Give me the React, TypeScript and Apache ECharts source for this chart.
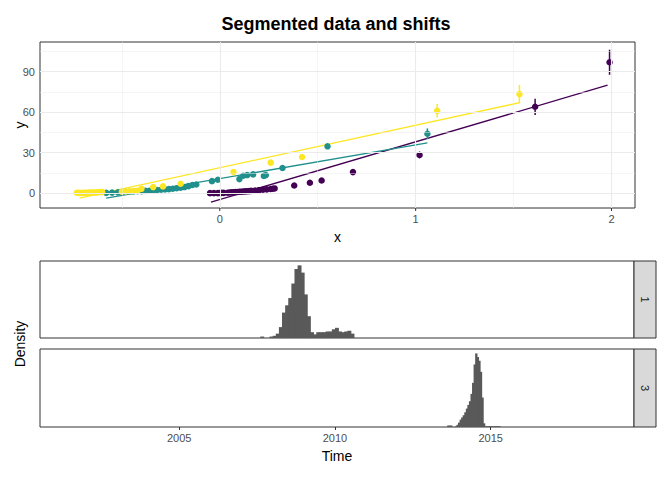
import { useRef, useEffect } from 'react';
import * as echarts from 'echarts';

const PURPLE = '#440154';
const TEAL = '#21908C';
const YELLOW = '#FDE725';

// [x, y, err]
const purplePts = [
  [-0.05, 0, 0], [-0.03, 0, 0], [-0.01, 0, 0], [0.0, 0.1, 0], [0.01, 0.2, 0], [0.02, 0.2, 0],
  [0.04, 0.3, 0], [0.05, 0.5, 0], [0.06, 0.6, 0], [0.07, 0.7, 0], [0.08, 0.8, 0], [0.09, 0.9, 0],
  [0.1, 1.0, 0], [0.11, 1.1, 0], [0.12, 1.2, 0], [0.13, 1.3, 0], [0.14, 1.4, 0], [0.15, 1.5, 0],
  [0.16, 1.7, 0], [0.18, 1.9, 0], [0.2, 2.2, 0], [0.22, 2.5, 0], [0.24, 2.8, 0], [0.26, 3.1, 0],
  [0.27, 3.3, 0], [0.28, 3.5, 0], [0.38, 5.7, 0], [0.46, 7.7, 0], [0.52, 9.4, 0], [0.68, 15.6, 0],
  [1.02, 28.3, 2.5], [1.61, 64, 6], [1.99, 97, 9.3],
];
const tealPts = [
  [-0.58, 0.2, 0], [-0.55, 0.4, 0], [-0.52, 0.6, 0], [-0.5, 0.8, 0], [-0.48, 1.0, 0], [-0.46, 1.0, 0],
  [-0.44, 1.2, 0], [-0.42, 1.4, 0], [-0.4, 1.5, 0], [-0.38, 1.7, 0], [-0.36, 1.8, 0], [-0.34, 2.0, 0],
  [-0.32, 2.3, 0], [-0.3, 2.5, 0], [-0.28, 2.8, 0], [-0.26, 3.0, 0], [-0.24, 3.3, 0], [-0.22, 3.6, 0],
  [-0.2, 4.0, 0], [-0.18, 4.5, 0], [-0.16, 5.2, 0], [-0.14, 6.0, 0], [-0.12, 6.4, 0], [-0.04, 8.9, 0],
  [-0.01, 9.9, 0], [0.1, 10.4, 0], [0.12, 12.9, 0], [0.14, 13.4, 0], [0.17, 13.9, 0], [0.225, 12.8, 0],
  [0.235, 13.4, 0], [0.32, 18.6, 0], [0.55, 34.7, 1.5], [1.06, 44, 4],
];
const yellowPts = [
  [-0.73, 0.3, 0], [-0.72, 0.2, 0], [-0.71, 0.1, 0], [-0.7, 0.2, 0], [-0.69, 0.3, 0], [-0.68, 0.3, 0],
  [-0.67, 0.4, 0], [-0.66, 0.4, 0], [-0.65, 0.5, 0], [-0.64, 0.5, 0], [-0.63, 0.6, 0], [-0.62, 0.7, 0],
  [-0.61, 0.8, 0], [-0.6, 0.8, 0], [-0.5, 1.0, 0], [-0.48, 1.2, 0], [-0.46, 1.4, 0], [-0.44, 1.6, 0],
  [-0.42, 1.8, 0], [-0.4, 3.2, 0], [-0.34, 4.5, 0], [-0.29, 5.0, 0], [-0.2, 7.0, 0], [0.07, 15.6, 0],
  [0.26, 22.6, 0], [0.42, 26.8, 0], [1.11, 61, 5], [1.53, 73.4, 6.8],
];
const purpleLine = [[-0.045, -6.7], [1.98, 80]];
const tealLine = [[-0.58, -3.7], [1.06, 37.2]];
const yellowLine = [[-0.716, -3.7], [1.53, 67]];

const xTicks = [0, 1, 2];
const xMinor = [-0.5, 0.5, 1.5];
const yTicks = [0, 30, 60, 90];
const yMinor = [15, 45, 75, 105];
const timeTicks = [2005, 2010, 2015];

// histogram bins: start, width, density (relative)
const bins1Start = 2007.6;
const bins1Width = 0.1;
const bins1 = [0.02, 0, 0, 0.02, 0.03, 0.06, 0.15, 0.35, 0.45, 0.55, 0.75, 0.95, 1.0, 0.9, 0.6, 0.3,
  0.08, 0.05, 0.08, 0.08, 0.08, 0.09, 0.09, 0.12, 0.14, 0.09, 0.08, 0.09, 0.1, 0.06];
const bins3Start = 2013.6;
const bins3Width = 0.05;
const bins3 = [0.02, 0.02, 0.02, 0, 0, 0.01, 0.03, 0.06, 0.1, 0.13, 0.16, 0.2, 0.25, 0.3, 0.35, 0.45,
  0.6, 0.85, 1.0, 0.95, 0.9, 0.75, 0.4, 0.05, 0.01, 0.01, 0.01, 0.01, 0.01, 0.01, 0.01, 0.01, 0.01, 0.01];

const GRID = '#EBEBEB';
const BORDER = '#333333';
const TXT = '#4D4D4D';
const FONT = 'Liberation Sans, Arial, sans-serif';
const X_MIN = -0.918;
const Y_MIN = -11;

function histData(start: number, w: number, vals: number[]) {
  return vals.map((v, i) => [start + i * w, start + (i + 1) * w, v]);
}

export default function App() {
  const ref = useRef<HTMLDivElement>(null);

  useEffect(() => {
    if (!ref.current) return;
    const chart = echarts.init(ref.current, null, { renderer: 'svg' });

    const scatter = (name: string, color: string, pts: number[][]) => [
      {
        name, type: 'scatter' as const, xAxisIndex: 0, yAxisIndex: 0,
        data: pts.map((p) => [p[0], p[1]]), symbolSize: 6.5,
        itemStyle: { color, opacity: 1 }, z: 3,
      },
      {
        name: name + '-err', type: 'custom' as const, xAxisIndex: 0, yAxisIndex: 0,
        data: pts.filter((p) => p[2] > 0),
        renderItem: (_p: any, api: any) => {
          const a = api.coord([api.value(0), api.value(1) - api.value(2)]);
          const b = api.coord([api.value(0), api.value(1) + api.value(2)]);
          return { type: 'rect', shape: { x: a[0] - 0.75, y: b[1], width: 1.5, height: a[1] - b[1] }, style: { fill: color } };
        },
        z: 4,
      },
    ];
    const line = (color: string, d: number[][]) => ({
      type: 'line' as const, xAxisIndex: 0, yAxisIndex: 0, data: d, symbol: 'none',
      lineStyle: { color, width: 1.3 }, z: 2,
    });
    const hist = (idx: number, d: number[][]) => ({
      type: 'custom' as const, xAxisIndex: idx, yAxisIndex: idx, data: d,
      renderItem: (_p: any, api: any) => {
        const a = api.coord([api.value(0), api.value(2)]);
        const b = api.coord([api.value(1), 0]);
        return { type: 'rect', shape: { x: a[0], y: a[1], width: b[0] - a[0] + 0.8, height: b[1] - a[1] }, style: { fill: '#595959' } };
      },
    });
    const xTickLabels = {
      type: 'custom' as const, xAxisIndex: 0, yAxisIndex: 0, data: xTicks.map((v) => [v]),
      clip: false, silent: true,
      renderItem: (_p: any, api: any) => {
        const c = api.coord([api.value(0), Y_MIN]);
        return {
          type: 'group',
          children: [
            { type: 'line', shape: { x1: c[0], y1: c[1], x2: c[0], y2: c[1] + 3 }, style: { stroke: '#333', lineWidth: 1 } },
            { type: 'text', x: c[0], y: c[1] + 5, style: { text: String(api.value(0)), fill: TXT, fontSize: 11, fontFamily: FONT, align: 'center', verticalAlign: 'top' } },
          ],
        };
      },
    };
    const gridLines = {
      type: 'line' as const, xAxisIndex: 0, yAxisIndex: 0, data: [], z: 1,
      markLine: {
        silent: true, symbol: 'none', label: { show: false }, animation: false,
        data: [
          ...xTicks.map((v) => ({ xAxis: v, lineStyle: { color: GRID, width: 1.1, type: 'solid' } })),
          ...xMinor.map((v) => ({ xAxis: v, lineStyle: { color: GRID, width: 0.5, type: 'solid' } })),
          ...yTicks.map((v) => ({ yAxis: v, lineStyle: { color: GRID, width: 1.1, type: 'solid' } })),
          ...yMinor.map((v) => ({ yAxis: v, lineStyle: { color: GRID, width: 0.5, type: 'solid' } })),
        ],
      },
    };

    const axisLine = { show: false };
    const tick = { show: true, length: 3, lineStyle: { color: '#333' } };
    const label = {
      color: TXT, fontSize: 11, fontFamily: FONT,
      formatter: (v: number) => String(v),
    };
    const gridBase = { show: true, borderColor: BORDER, borderWidth: 1, containLabel: false, outerBoundsMode: 'none' };

    chart.setOption({
      animation: false,
      textStyle: { fontFamily: FONT },
      title: {
        text: 'Segmented data and shifts', left: 'center', top: 10,
        textStyle: { fontSize: 18, fontWeight: 'bold', color: '#000' },
      },
      grid: [
        { ...gridBase, left: 40, right: 37, top: 42, height: 166 },
        { ...gridBase, left: 40, right: 38, top: 261, height: 77 },
        { ...gridBase, left: 40, right: 38, top: 349, height: 78 },
      ],
      xAxis: [
        {
          gridIndex: 0, type: 'value', min: X_MIN, max: 2.12, axisLine, splitLine: { show: false },
          axisTick: { show: false }, axisLabel: { show: false },
          name: 'x', nameLocation: 'middle', nameGap: 22, nameTextStyle: { fontSize: 14, color: '#000' },
        },
        {
          gridIndex: 1, type: 'value', min: 2000.53, max: 2019.6, axisLine, splitLine: { show: false },
          axisTick: { show: false }, axisLabel: { show: false },
        },
        {
          gridIndex: 2, type: 'value', min: 2000.53, max: 2019.6, axisLine, splitLine: { show: false },
          axisTick: { ...tick, customValues: timeTicks }, axisLabel: { ...label, customValues: timeTicks, margin: 5 },
          name: 'Time', nameLocation: 'middle', nameGap: 22, nameTextStyle: { fontSize: 14, color: '#000' },
        },
      ],
      yAxis: [
        {
          gridIndex: 0, type: 'value', min: Y_MIN, max: 112, axisLine, splitLine: { show: false },
          axisTick: { ...tick, customValues: yTicks }, axisLabel: { ...label, customValues: yTicks, margin: 5 },
        },
        {
          gridIndex: 1, type: 'value', min: 0, max: 1.06, axisLine, splitLine: { show: false },
          axisTick: { show: false }, axisLabel: { show: false },
        },
        {
          gridIndex: 2, type: 'value', min: 0, max: 1.06, axisLine, splitLine: { show: false },
          axisTick: { show: false }, axisLabel: { show: false },
        },
      ],
      graphic: [
        { type: 'rect', shape: { x: 634, y: 261, width: 22, height: 77 }, style: { fill: '#D9D9D9', stroke: BORDER, lineWidth: 1 } },
        { type: 'rect', shape: { x: 634, y: 349, width: 22, height: 78 }, style: { fill: '#D9D9D9', stroke: BORDER, lineWidth: 1 } },
        { type: 'text', x: 645, y: 299.5, rotation: -Math.PI / 2, style: { text: '1', fill: '#1A1A1A', fontSize: 11, align: 'center', verticalAlign: 'middle' } },
        { type: 'text', x: 645, y: 388, rotation: -Math.PI / 2, style: { text: '3', fill: '#1A1A1A', fontSize: 11, align: 'center', verticalAlign: 'middle' } },
        { type: 'text', x: 20, y: 125, rotation: Math.PI / 2, style: { text: 'y', fill: '#000', fontSize: 14, fontFamily: FONT, align: 'center', verticalAlign: 'middle' } },
        { type: 'text', x: 20, y: 344, rotation: Math.PI / 2, style: { text: 'Density', fill: '#000', fontSize: 14, fontFamily: FONT, align: 'center', verticalAlign: 'middle' } },
      ],
      series: [
        gridLines,
        xTickLabels,
        line(PURPLE, purpleLine),
        line(TEAL, tealLine),
        line(YELLOW, yellowLine),
        ...scatter('p', PURPLE, purplePts),
        ...scatter('t', TEAL, tealPts),
        ...scatter('yl', YELLOW, yellowPts),
        hist(1, histData(bins1Start, bins1Width, bins1)),
        hist(2, histData(bins3Start, bins3Width, bins3)),
      ],
    });

    return () => chart.dispose();
  }, []);

  return <div ref={ref} style={{ width: 672, height: 480, margin: -8 }} />;
}
